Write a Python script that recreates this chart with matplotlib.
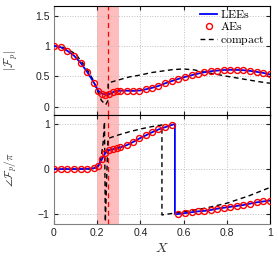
import numpy as np
import matplotlib
matplotlib.use("Agg")
import matplotlib.pyplot as plt

plt.rcParams["mathtext.fontset"] = "cm"
plt.rcParams["font.family"] = ["Liberation Sans", "DejaVu Sans"]

# sample positions of the AE / LEE solutions
x_ae = [0, 0.031, 0.062, 0.093, 0.124, 0.155, 0.186, 0.205, 0.222, 0.238, 0.255,
        0.272, 0.29, 0.308, 0.336, 0.366, 0.396, 0.426, 0.455, 0.484, 0.514, 0.545,
        0.575, 0.606, 0.637, 0.668, 0.697, 0.727, 0.757, 0.786, 0.816, 0.846, 0.876,
        0.907, 0.938, 0.969, 1.0]
mag_ae = [1.0, 0.98, 0.92, 0.84, 0.72, 0.565, 0.39, 0.26, 0.215, 0.198, 0.205,
          0.235, 0.255, 0.262, 0.262, 0.258, 0.265, 0.285, 0.31, 0.34, 0.383, 0.42,
          0.455, 0.488, 0.517, 0.544, 0.567, 0.583, 0.594, 0.603, 0.606, 0.605, 0.6,
          0.589, 0.573, 0.555, 0.53]
phase_ae = [0, 0, 0, 0, 0, 0.005, 0.02, 0.07, 0.22, 0.36, 0.42,
            0.44, 0.46, 0.48, 0.53, 0.6, 0.68, 0.75, 0.82, 0.88, 0.93, 0.98,
            -1.0, -0.98, -0.96, -0.94, -0.93, -0.91, -0.88, -0.86, -0.84, -0.82, -0.80,
            -0.77, -0.74, -0.72, -0.70]
x_jump = 0.56  # phase wrap of the LEE solution

# compact model
x_cmp_mag = [0, 0.05, 0.1, 0.15, 0.18, 0.2, 0.22, 0.24, 0.25, 0.251, 0.3, 0.35, 0.4,
             0.45, 0.5, 0.55, 0.6, 0.65, 0.7, 0.75, 0.8, 0.85, 0.9, 0.95, 1.0]
mag_cmp = [1.0, 0.97, 0.87, 0.64, 0.45, 0.27, 0.1, 0.03, 0.1, 0.39, 0.44, 0.49, 0.52,
           0.56, 0.585, 0.61, 0.62, 0.605, 0.565, 0.535, 0.5, 0.47, 0.44, 0.41, 0.385]
x_cmp_ph = [0, 0.19, 0.2, 0.21, 0.22, 0.228, 0.234, 0.238, 0.25, 0.3, 0.35, 0.4, 0.45,
            0.5, 0.5, 0.6, 0.7, 0.8, 0.9, 1.0]
phase_cmp = [0, 0, 0.03, 0.1, 0.3, 0.6, 1.05, -1.17, 0.68, 0.76, 0.83, 0.89, 0.94,
             0.98, -1.02, -0.95, -0.87, -0.76, -0.6, -0.41]

band = (0.2, 0.3)
x_mark = 0.25

fig = plt.figure(figsize=(2.78, 2.58), dpi=100)
ax1 = fig.add_axes([0.194, 0.554, 0.777, 0.423])
ax2 = fig.add_axes([0.194, 0.132, 0.777, 0.422])

lee_x = np.insert(np.array(x_ae, float), 22, [x_jump, x_jump])
lee_ph = np.insert(np.array(phase_ae, float), 22, [1.0, -1.0])

for ax in (ax1, ax2):
    ax.axvspan(*band, color="#ffbcbc", lw=0, zorder=0)
    ax.axvline(x_mark, color="red", ls=(0, (4, 3)), lw=0.9, zorder=1)
    ax.grid(True, ls=":", color="#c0c0c0", lw=0.7)
    ax.set_axisbelow(True)
    ax.set_xlim(0, 1)
    ax.set_xticks([0, 0.2, 0.4, 0.6, 0.8, 1])
    ax.tick_params(direction="in", length=3, top=True, right=True,
                   labelsize=7.5, colors="#222222", pad=3)
    for s in ("left", "bottom"):
        ax.spines[s].set_color("#808080")
    for s in ("top", "right"):
        ax.spines[s].set_color("black")
    for s in ax.spines.values():
        s.set_linewidth(0.8)

ax1.plot(x_ae, mag_ae, color="blue", lw=1.3, label=r"$\mathrm{LEEs}$", zorder=3)
ax1.plot(x_ae, mag_ae, ls="none", marker="o", ms=4.3, mfc="none", mec="red",
         mew=1.0, label=r"$\mathrm{AEs}$", zorder=4)
ax1.plot(x_cmp_mag, mag_cmp, color="black", ls=(0, (3.5, 2.5)), lw=1.0,
         label=r"$\mathrm{compact}$", zorder=2)
ax1.set_ylim(-0.14, 1.66)
ax1.set_yticks([0, 0.5, 1, 1.5])
ax1.set_yticklabels(["0", "0.5", "1", "1.5"])
ax1.tick_params(labelbottom=False)
ax1.spines["bottom"].set_color("black")
ax1.set_ylabel(r"$|\mathcal{F}_p|$", fontsize=8.5, color="#333333")
ax1.yaxis.set_label_coords(-0.155, 0.5)
leg = ax1.legend(loc="upper right", bbox_to_anchor=(1.01, 1.04), frameon=False,
                 fontsize=8.5, handlelength=1.4, handletextpad=0.3,
                 labelspacing=0.05, borderaxespad=0.2)

ax2.plot(lee_x, lee_ph, color="blue", lw=1.3, zorder=3)
ax2.plot(x_ae, phase_ae, ls="none", marker="o", ms=4.3, mfc="none", mec="red",
         mew=1.0, zorder=4)
ax2.plot(x_cmp_ph, phase_cmp, color="black", ls=(0, (3.5, 2.5)), lw=1.0, zorder=2)
ax2.set_ylim(-1.22, 1.2)
ax2.set_yticks([-1, 0, 1])
ax2.set_yticklabels(["\u22121", "0", "1"])
ax2.set_xticklabels(["0", "0.2", "0.4", "0.6", "0.8", "1"])
ax2.spines["top"].set_color("black")
ax2.set_ylabel(r"$\angle\mathcal{F}_p/\pi$", fontsize=8, color="#333333")
ax2.yaxis.set_label_coords(-0.155, 0.5)
ax2.set_xlabel(r"$X$", fontsize=10, color="#333333", labelpad=2)

fig.savefig("out.png", dpi=100)
